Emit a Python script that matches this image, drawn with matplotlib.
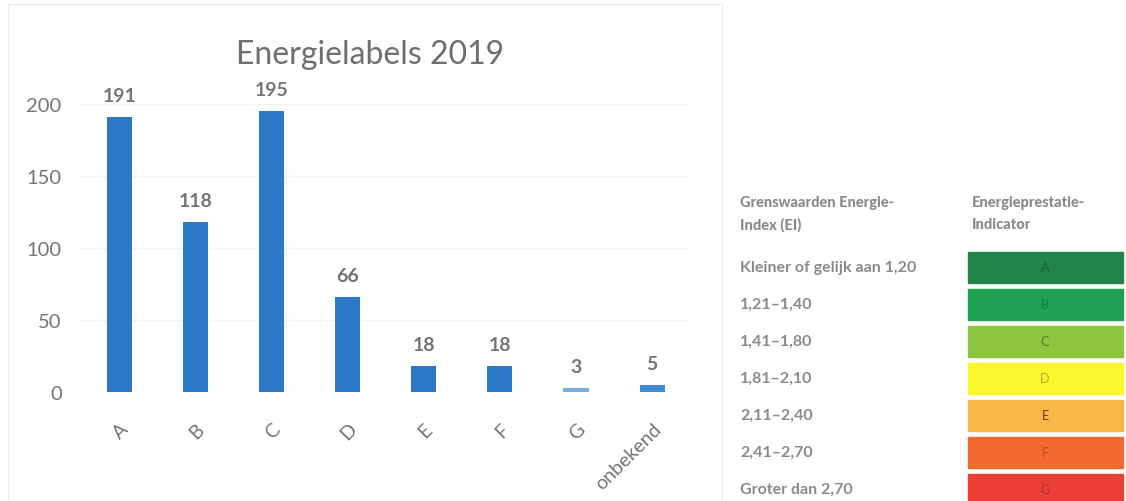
import matplotlib.pyplot as plt
from matplotlib.patches import Rectangle

plt.rcParams['font.family'] = ['Lato', 'DejaVu Sans']

# chart data
labels = ['A', 'B', 'C', 'D', 'E', 'F', 'G', 'onbekend']
counts = [191, 118, 195, 66, 18, 18, 3, 5]
bar_colors = ['#2b78c8'] * 6 + ['#7aaee0', '#3f8bd6']

# table data
ei_ranges = ['Kleiner of gelijk aan 1,20', '1,21\u20131,40', '1,41\u20131,80',
             '1,81\u20132,10', '2,11\u20132,40', '2,41\u20132,70', 'Groter dan 2,70']
ep_letters = ['A', 'B', 'C', 'D', 'E', 'F', 'G']
ep_colors = ['#23844a', '#1ea152', '#8cc63f', '#fcf72a', '#fbb848', '#f26a30', '#ea4036']
ep_text = ['#1a5c33', '#157a3d', '#4d7a22', '#b5a83a', '#7a2a3a', '#c04a20', '#b0302a']

grey = '#747474'

fig = plt.figure(figsize=(11.26, 5.02), dpi=100)

# light frame round the chart
frame = fig.add_axes([0, 0, 1, 1])
frame.set_xlim(0, 1126)
frame.set_ylim(502, 0)
frame.axis('off')
frame.add_patch(Rectangle((8, 5), 714, 500, fill=False, ec='#eeeeee', lw=1))

ax = fig.add_axes([0.072, 0.217, 0.541, 0.602])
x = range(len(labels))
bars = ax.bar(x, counts, width=0.33, color=bar_colors)
ax.set_xlim(-0.5, len(labels) - 0.5)
ax.set_ylim(0, 210)
ax.set_yticks([0, 50, 100, 150, 200])
ax.yaxis.grid(True, color='#f2f2f2', lw=1)
ax.set_axisbelow(True)
for s in ax.spines.values():
    s.set_visible(False)
ax.tick_params(length=0, colors=grey, labelsize=14.5)
ax.tick_params(axis='x', pad=20)
ax.tick_params(axis='y', pad=14)
ax.set_xticks(list(x))
ax.set_xticklabels(labels, rotation=45, ha='right', rotation_mode='anchor',
                   color=grey, fontsize=14)
for b, v in zip(bars, counts):
    ax.text(b.get_x() + b.get_width() / 2, v + 9, str(v), ha='center', va='bottom',
            fontsize=14, color=grey, fontweight='bold')
ax.set_title('Energielabels 2019', fontsize=23, color='#6e6e6e', pad=19, x=0.475)

# reference table on the right
frame.text(740, 214, 'Grenswaarden Energie-\nIndex (EI)', fontsize=10.5, fontweight='black',
           color='#8a8a8a', va='center', linespacing=1.7)
frame.text(972, 214, 'Energieprestatie-\nIndicator', fontsize=10.5, fontweight='black',
           color='#8a8a8a', va='center', linespacing=1.7)
for i, (rng, letter) in enumerate(zip(ei_ranges, ep_letters)):
    yc = 268 + i * 37
    frame.text(740, yc, rng, fontsize=11.5, fontweight='bold', color='#8a8a8a', va='center')
    frame.add_patch(Rectangle((968, yc - 15), 155, 31, color=ep_colors[i]))
    frame.text(1045, yc, letter, fontsize=9, color=ep_text[i], ha='center', va='center')

fig.savefig('out.png', dpi=100)
